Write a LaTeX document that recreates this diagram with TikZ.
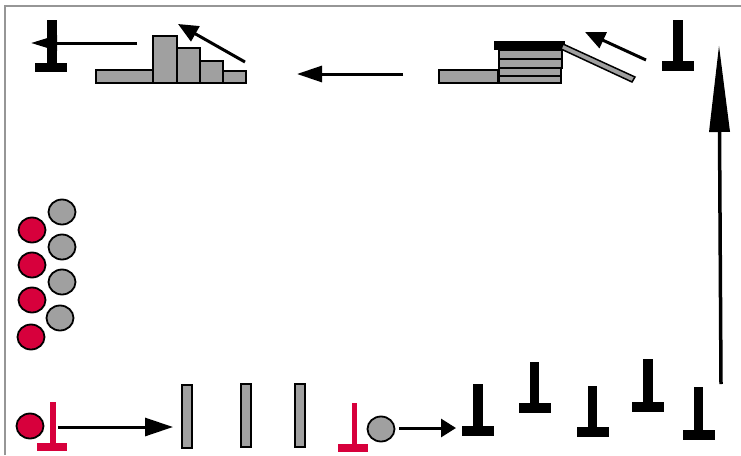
\documentclass[tikz,border=0pt]{standalone}
\usetikzlibrary{arrows.meta}
\definecolor{myred}{RGB}{215,0,60}
\definecolor{mygray}{RGB}{160,160,160}
\definecolor{framegray}{RGB}{150,150,150}
\tikzset{
  graybox/.style={fill=mygray,draw=black,line width=1.8pt},
  grayball/.style={fill=mygray,draw=black,line width=1.8pt},
  redball/.style={fill=myred,draw=black,line width=1.8pt},
  blackbar/.style={fill=black,draw=none},
  redbar/.style={fill=myred,draw=none},
  arr/.style={line width=3pt,-{Triangle[length=#1]}},
}
\begin{document}
\begin{tikzpicture}[x=1pt,y=-1pt]
\useasboundingbox (0,0) rectangle (741,455);
% frame
\draw[framegray,line width=1.2pt] (5,455) -- (5,6) -- (741,6);

% ---------- top left ----------
% black T
\fill[blackbar] (47,20) rectangle (57,64);
\fill[blackbar] (35,63) rectangle (67,72);
% histogram
\draw[graybox] (96,70) rectangle (153,83);
\draw[graybox] (153,36) rectangle (177,83);
\draw[graybox] (177,48) rectangle (200,83);
\draw[graybox] (200,61) rectangle (223,83);
\draw[graybox] (223,71) rectangle (246,83);
% arrows
\coordinate (a1s) at (137,43); \coordinate (a1e) at (31,43);
\draw[line width=3pt,-{Triangle[length=26pt,width=15pt]}] (a1s) -- (a1e);
\coordinate (a2s) at (245,62); \coordinate (a2e) at (178,24);
\draw[line width=3pt,-{Triangle[length=20pt,width=17pt]}] (a2s) -- (a2e);
\coordinate (a3s) at (403,74); \coordinate (a3e) at (297,74);
\draw[line width=3pt,-{Triangle[length=25pt,width=16pt]}] (a3s) -- (a3e);

% ---------- top right ----------
\draw[graybox] (439,70) rectangle (498,83);
\draw[graybox] (499,76) rectangle (561,83);
\draw[graybox] (499,68) rectangle (561,76);
\draw[graybox] (499,59) rectangle (562,68);
\draw[graybox] (499,50) rectangle (562,59);
\fill[blackbar] (494,41) rectangle (565,50);
\draw[fill=mygray,draw=black,line width=1.5pt] (563,44) -- (635,77) -- (632,82) -- (561,49) -- cycle;
\coordinate (a4s) at (646,60); \coordinate (a4e) at (585,32);
\draw[line width=3pt,-{Triangle[length=20pt,width=17pt]}] (a4s) -- (a4e);
% black T
\fill[blackbar] (673,20) rectangle (683,62);
\fill[blackbar] (662,61) rectangle (694,71);
% vertical arrow
\coordinate (a5s) at (721,384); \coordinate (a5e) at (719,45);
\draw[line width=3.5pt,-{Triangle[length=87pt,width=20pt]}] (a5s) -- (a5e);

% ---------- left balls ----------
\foreach \y/\n in {212/1,247/2,282/3} \draw[grayball] (62,\y) ellipse[x radius=13.5,y radius=12.5];
\draw[grayball] (60,318) ellipse[x radius=13.5,y radius=12.5];
\foreach \y in {230,265,300} \draw[redball] (32,\y) ellipse[x radius=13.5,y radius=12.5];
\draw[redball] (31,337) ellipse[x radius=13.5,y radius=12.5];

% ---------- bottom row ----------
\draw[redball] (30,426) ellipse[x radius=13.5,y radius=12.5];
\fill[redbar] (50,402) rectangle (56,444);
\fill[redbar] (37,443) rectangle (67,451);
\coordinate (a6s) at (58,427); \coordinate (a6e) at (173,427);
\draw[line width=3pt,-{Triangle[length=28pt,width=18pt]}] (a6s) -- (a6e);
\draw[graybox] (182,385) rectangle (192,448);
\draw[graybox] (241,384) rectangle (251,447);
\draw[graybox] (295,384) rectangle (305,447);
\fill[redbar] (352,403) rectangle (357,444);
\fill[redbar] (338,444) rectangle (368,452);
\draw[grayball] (381,429) ellipse[x radius=13.5,y radius=12.5];
\coordinate (a7s) at (399,428); \coordinate (a7e) at (456,428);
\draw[line width=3pt,-{Triangle[length=15pt,width=18pt]}] (a7s) -- (a7e);
% black Ts
\foreach \sx/\st/\sb in {478/384/426, 534.5/362/403, 592.5/386/427, 648/359/402, 698.5/387/430}{
  \fill[blackbar] (\sx-4.7,\st) rectangle (\sx+4.7,\sb+1);
  \fill[blackbar] (\sx-16,\sb) rectangle (\sx+16,\sb+10);
}
\end{tikzpicture}
\end{document}
